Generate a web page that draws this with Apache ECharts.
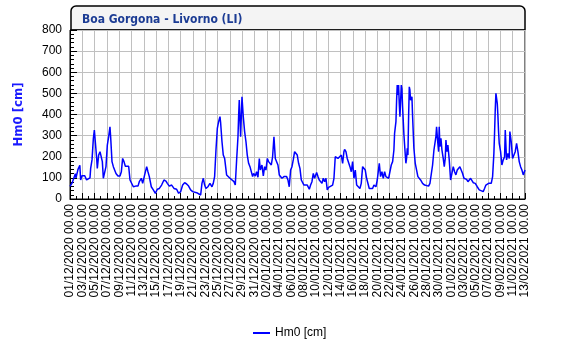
<!DOCTYPE html>
<html>
<head>
<meta charset="utf-8">
<title>Boa Gorgona - Livorno (LI)</title>
<script src="https://cdn.jsdelivr.net/npm/echarts@6/dist/echarts.min.js"></script>
<style>
  html, body { margin: 0; padding: 0; background: #fff; }
  #chart { width: 575px; height: 355px; }
</style>
</head>
<body>
<div id="chart"></div>
<script>
// giorni dal 01/12/2020 00.00
var days = [
  0.0, 0.33, 0.87, 0.98, 1.3, 1.6, 1.73, 1.95, 2.4, 2.7, 3.0, 3.25, 3.36, 3.58, 3.8, 3.96,
  4.12, 4.34, 4.44, 4.66, 4.88, 5.09, 5.26, 5.42, 5.64, 5.85, 6.07, 6.29, 6.5, 6.61, 6.83,
  7.05, 7.26, 7.48, 7.8, 8.13, 8.35, 8.56, 8.78, 9.0, 9.27, 9.54, 9.76, 9.97, 10.3, 10.68,
  11.06, 11.27, 11.6, 11.82, 12.14, 12.47, 12.68, 12.9, 13.22, 13.55, 13.88, 14.2, 14.53,
  14.9, 15.28, 15.61, 15.83, 16.15, 16.53, 16.91, 17.34, 17.67, 18.0, 18.32, 18.64, 18.97,
  19.29, 19.62, 19.95, 20.27, 20.6, 20.92, 21.25, 21.46, 21.68, 21.9, 22.11, 22.44, 22.76,
  23.09, 23.3, 23.52, 23.74, 23.96, 24.17, 24.39, 24.5, 24.72, 24.93, 25.15, 25.37, 25.47,
  25.69, 26.02, 26.34, 26.67, 26.88, 27.1, 27.32, 27.43, 27.53, 27.75, 27.97, 28.08, 28.18,
  28.4, 28.62, 28.83, 29.05, 29.27, 29.49, 29.7, 29.86, 30.14, 30.35, 30.57, 30.79, 30.95,
  31.22, 31.44, 31.65, 31.87, 32.09, 32.3, 32.52, 32.74, 32.95, 33.17, 33.28, 33.39, 33.6,
  33.82, 34.04, 34.25, 34.47, 34.8, 35.01, 35.23, 35.45, 35.66, 35.88, 36.1, 36.31, 36.53,
  36.75, 36.96, 37.18, 37.4, 37.62, 37.83, 38.05, 38.27, 38.59, 38.92, 39.13, 39.35, 39.57,
  39.78, 40.11, 40.33, 40.54, 40.76, 40.98, 41.19, 41.41, 41.63, 41.84, 42.06, 42.38, 42.71,
  42.93, 43.14, 43.36, 43.58, 43.79, 44.12, 44.34, 44.55, 44.66, 44.88, 45.09, 45.31, 45.53,
  45.75, 45.96, 46.18, 46.4, 46.62, 46.83, 47.15, 47.37, 47.59, 47.8, 48.02, 48.24, 48.46,
  48.67, 48.89, 49.21, 49.43, 49.76, 49.97, 50.19, 50.3, 50.51, 50.73, 50.95, 51.17, 51.38,
  51.6, 51.82, 52.03, 52.25, 52.47, 52.68, 52.79, 53.01, 53.12, 53.22, 53.33, 53.44, 53.55,
  53.66, 53.88, 53.98, 54.09, 54.31, 54.53, 54.63, 54.74, 54.85, 54.96, 55.07, 55.18, 55.28,
  55.39, 55.61, 55.72, 55.93, 56.15, 56.37, 56.58, 56.8, 57.02, 57.34, 57.67, 57.99, 58.32,
  58.54, 58.75, 58.97, 59.19, 59.4, 59.51, 59.62, 59.78, 59.95, 60.05, 60.16, 60.33, 60.49,
  60.7, 60.87, 61.03, 61.14, 61.3, 61.46, 61.68, 61.9, 62.11, 62.33, 62.55, 62.76, 62.98,
  63.2, 63.41, 63.63, 63.85, 64.07, 64.28, 64.5, 64.72, 64.93, 65.15, 65.37, 65.58, 65.91,
  66.23, 66.56, 66.88, 67.2, 67.42, 67.64, 67.86, 68.08, 68.29, 68.51, 68.73, 68.94, 69.05,
  69.16, 69.27, 69.38, 69.49, 69.59, 69.7, 69.81, 70.03, 70.24, 70.46, 70.68, 70.79, 71.0,
  71.22, 71.44, 71.54, 71.76, 71.98, 72.2, 72.41, 72.63, 72.85, 73.06, 73.28, 73.5, 73.72,
  73.83, 74.0
];
// Hm0 [cm]
var hm0 = [
  60, 75, 120, 100, 140, 160, 90, 110, 110, 90, 95, 100, 145, 185, 287, 326,
  270, 192, 145, 208, 224, 216, 177, 98, 98, 153, 255, 295, 342, 295, 177,
  153, 153, 121, 109, 109, 129, 192, 177, 155, 150, 155, 90, 82, 58, 61,
  61, 82, 98, 74, 114, 153, 129, 106, 58, 43, 27, 46, 50,
  66, 90, 85, 74, 61, 66, 50, 46, 27, 35, 66, 77, 71,
  61, 43, 35, 39, 30, 24, 19, 74, 98, 66, 50, 58, 74,
  58, 74, 106, 232, 334, 366, 390, 360, 271, 208, 192, 200, 114,
  106, 98, 98, 82, 66, 185, 295, 397, 468, 295, 484, 476, 390,
  319, 271, 208, 169, 153, 145, 106, 121, 109, 129, 103, 192, 137,
  161, 109, 153, 137, 192, 177, 185, 161, 200, 295, 303, 192, 185,
  161, 114, 106, 98, 106, 98, 106, 90, 58, 137, 153, 185, 224,
  232, 208, 169, 145, 90, 82, 66, 58, 66, 46, 66, 82, 121,
  98, 125, 106, 90, 98, 74, 98, 82, 98, 43, 55, 61, 66,
  98, 200, 208, 192, 192, 208, 169, 224, 235, 224, 192, 197, 153,
  129, 177, 98, 137, 66, 58, 50, 74, 153, 161, 137, 98, 106,
  50, 43, 50, 66, 58, 90, 98, 169, 106, 129, 98, 129, 106,
  114, 98, 90, 161, 177, 232, 311, 366, 468, 539, 492, 539, 453,
  390, 539, 523, 437, 303, 208, 169, 192, 240, 208, 390, 531, 516,
  468, 484, 390, 240, 169, 137, 106, 114, 90, 74, 66, 74, 61,
  74, 82, 161, 232, 240, 295, 342, 279, 224, 342, 248, 287, 232,
  192, 153, 192, 279, 224, 255, 185, 90, 98, 153, 129, 114, 137,
  145, 153, 161, 121, 98, 98, 93, 82, 90, 98, 90, 77, 74,
  58, 43, 35, 35, 50, 66, 58, 74, 82, 74, 106, 216, 311,
  421, 500, 508, 453, 397, 319, 263, 224, 161, 185, 200, 326, 185,
  216, 192, 319, 271, 192, 200, 224, 263, 224, 177, 153, 137, 114,
  121, 137
];
var yTicks = [0, 100, 200, 300, 400, 500, 600, 700, 800];
var startDate = Date.UTC(2020, 11, 1);
var seriesName = 'Hm0 [cm]';

function pad(n) { return n < 10 ? '0' + n : '' + n; }
function dayLabel(v) {
    var d = new Date(startDate + Math.round(v) * 86400000);
    return pad(d.getUTCDate()) + '/' + pad(d.getUTCMonth() + 1) + '/' + d.getUTCFullYear() + ' 00.00';
}

var points = days.map(function (d, i) { return [d, hm0[i]]; });

var chart = echarts.init(document.getElementById('chart'));
var option = {
    animation: false,
    backgroundColor: '#ffffff',
    title: {
        text: 'Boa Gorgona - Livorno (LI)',
        left: 77,
        top: 9,
        textStyle: { fontFamily: '"DejaVu Sans Condensed", "Liberation Sans Narrow", "Liberation Sans"', fontSize: 12, fontWeight: 'bold', color: '#1c3c94' }
    },
    graphic: [{
        type: 'rect',
        z: -1,
        shape: { x: 71, y: 6, width: 454, height: 24, r: [5, 5, 0, 0] },
        style: { fill: '#f4f4f4', stroke: '#000', lineWidth: 1.5 }
    }],
    legend: {
        left: 248,
        top: 322,
        icon: 'rect',
        itemWidth: 17,
        itemHeight: 2,
        itemGap: 8,
        textStyle: { fontFamily: 'Liberation Sans', fontSize: 12, color: '#000' },
        data: [seriesName]
    },
    grid: {
        left: 70, right: 50, top: 30, bottom: 156,
        show: true, borderColor: '#000', borderWidth: 1
    },
    xAxis: {
        type: 'value',
        min: 0, max: 74, interval: 2,
        axisLine: { lineStyle: { color: '#000' } },
        axisTick: { inside: true, length: 6, lineStyle: { color: '#000' } },
        minorTick: { show: true, splitNumber: 2, length: 3, lineStyle: { color: '#000' } },
        splitLine: { lineStyle: { color: '#c0c0c0' } },
        axisLabel: {
            rotate: 90, margin: 5,
            fontFamily: 'Liberation Sans', fontSize: 12, color: '#000',
            formatter: dayLabel
        }
    },
    yAxis: {
        type: 'value',
        min: yTicks[0], max: yTicks[yTicks.length - 1], interval: 100,
        name: seriesName,
        nameLocation: 'middle',
        nameGap: 45,
        nameTextStyle: { fontFamily: '"DejaVu Sans Condensed", "DejaVu Sans"', fontSize: 13, fontWeight: 'bold', color: '#1a1aff' },
        axisLine: { show: true, lineStyle: { color: '#000' } },
        axisTick: { inside: true, length: 7, lineStyle: { color: '#000' } },
        minorTick: { show: true, splitNumber: 5, length: 4, lineStyle: { color: '#000' } },
        splitLine: { lineStyle: { color: '#c0c0c0' } },
        axisLabel: { margin: 8, fontFamily: 'Liberation Sans', fontSize: 12, color: '#000' }
    },
    series: [{
        name: seriesName,
        type: 'line',
        data: points,
        showSymbol: false,
        color: '#0000ff',
        lineStyle: { width: 1.5, color: '#0000ff' }
    }]
};
chart.setOption(option);
</script>
</body>
</html>
